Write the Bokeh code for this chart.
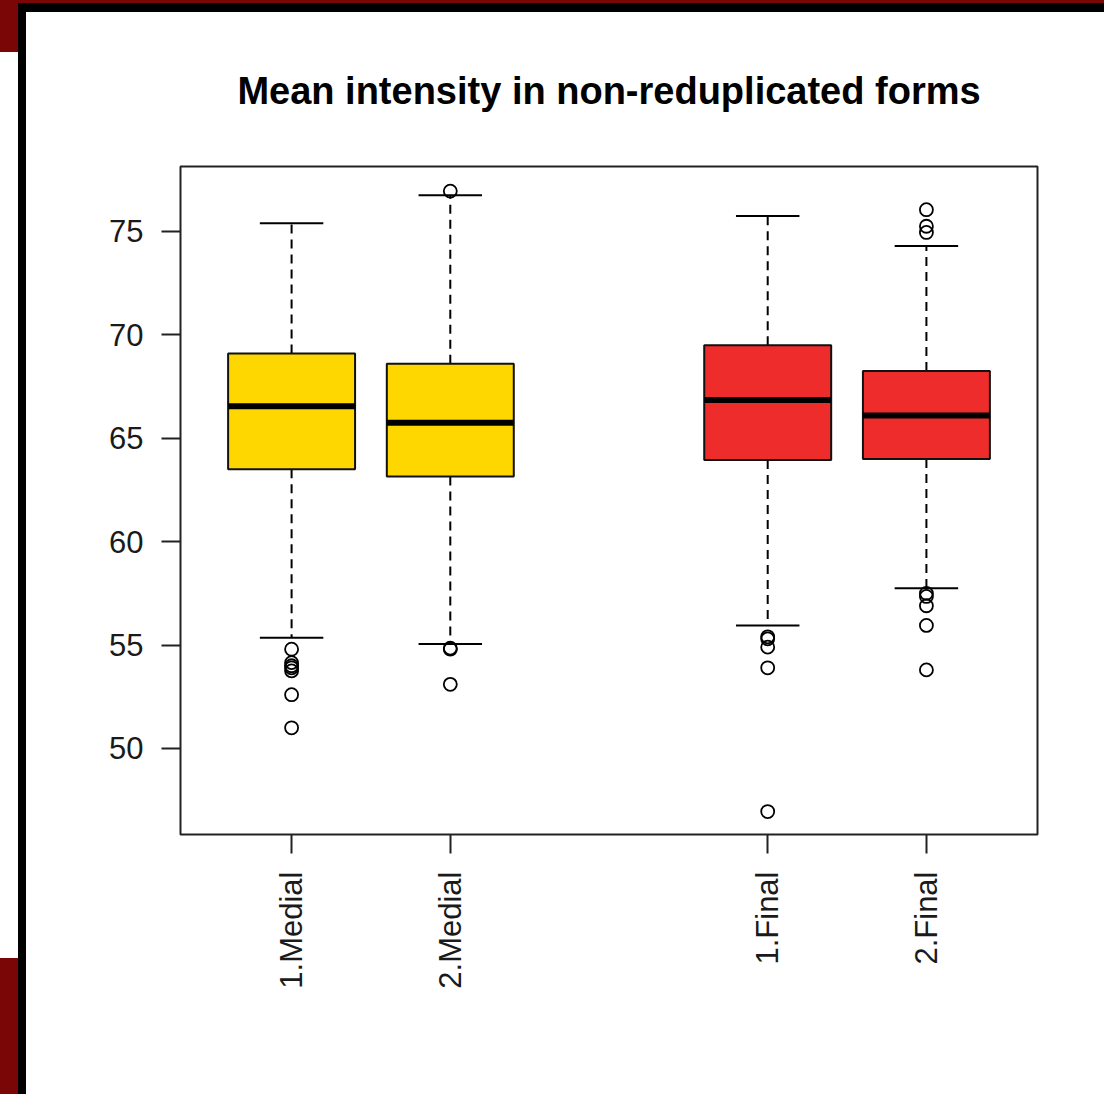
import math
from bokeh.plotting import figure
from bokeh.embed import file_html
from bokeh.resources import INLINE
from bokeh.models import FixedTicker, Range1d, Div
from bokeh.layouts import column, row

# ---- data ----
categories = ["1.Medial", "2.Medial", "1.Final", "2.Final"]
lower_whisker = [55.35, 55.05, 55.95, 57.75]
q1 = [63.5, 63.15, 63.95, 64.0]
median = [66.55, 65.75, 66.85, 66.1]
q3 = [69.1, 68.6, 69.5, 68.25]
upper_whisker = [75.4, 76.75, 75.75, 74.3]
outliers = {
    "1.Medial": [54.8, 54.15, 54.0, 53.9, 53.75, 52.6, 51.0],
    "2.Medial": [76.95, 54.85, 54.8, 53.1],
    "1.Final": [55.4, 55.3, 54.9, 53.9, 46.95],
    "2.Final": [76.05, 75.25, 74.95, 57.5, 57.35, 56.9, 55.95, 53.8],
}
y_ticks = [50, 55, 60, 65, 70, 75]
title_text = "Mean intensity in non-reduplicated forms"

# ---- layout ----
x_pos = [1, 2, 4, 5]
colors = ["#FFD700", "#FFD700", "#EE2C2C", "#EE2C2C"]
box_w = 0.8
cap_w = 0.4

W, H = 1104, 1094
OFF_X, OFF_Y = 26, 12
PW, PH = W - OFF_X, H - OFF_Y

p = figure(width=PW, height=PH, output_backend="svg", toolbar_location=None,
           x_range=Range1d(0.3, 5.7), y_range=Range1d(45.84, 78.14),
           min_border_left=180 - OFF_X, min_border_right=67,
           min_border_top=166 - OFF_Y, min_border_bottom=260)
p.background_fill_color = "white"
p.border_fill_color = "white"
p.grid.visible = False
p.outline_line_color = "#222222"
p.outline_line_width = 2

p.title.text = title_text
p.title.align = "center"
p.title.text_font = "Liberation Sans"
p.title.text_font_style = "bold"
p.title.text_font_size = "38px"
p.title.text_color = "black"
p.title.standoff = 109

# whiskers
p.segment(x0=x_pos, y0=q3, x1=x_pos, y1=upper_whisker, line_color="black",
          line_width=2, line_dash="9 6")
p.segment(x0=x_pos, y0=q1, x1=x_pos, y1=lower_whisker, line_color="black",
          line_width=2, line_dash="9 6")
# caps
p.segment(x0=[x - cap_w / 2 for x in x_pos], y0=upper_whisker,
          x1=[x + cap_w / 2 for x in x_pos], y1=upper_whisker,
          line_color="black", line_width=2)
p.segment(x0=[x - cap_w / 2 for x in x_pos], y0=lower_whisker,
          x1=[x + cap_w / 2 for x in x_pos], y1=lower_whisker,
          line_color="black", line_width=2)
# boxes
p.quad(left=[x - box_w / 2 for x in x_pos], right=[x + box_w / 2 for x in x_pos],
       bottom=q1, top=q3, fill_color=colors, line_color="#111111", line_width=2)
# medians
p.segment(x0=[x - box_w / 2 for x in x_pos], y0=median,
          x1=[x + box_w / 2 for x in x_pos], y1=median,
          line_color="black", line_width=6)
# outliers
ox, oy = [], []
for x, c in zip(x_pos, categories):
    for v in outliers[c]:
        ox.append(x)
        oy.append(v)
p.scatter(ox, oy, marker="circle", size=13, fill_color=None,
          line_color="black", line_width=1.8)

# axes
for ax in (p.xaxis[0], p.yaxis[0]):
    ax.axis_line_color = None
    ax.major_tick_line_color = "#222222"
    ax.major_tick_line_width = 2
    ax.major_tick_out = 19
    ax.major_tick_in = 0
    ax.minor_tick_line_color = None
    ax.major_label_text_font = "Liberation Sans"
    ax.major_label_text_font_size = "31px"
    ax.major_label_text_color = "#1a1a1a"
    ax.major_label_standoff = 18

p.xaxis.ticker = FixedTicker(ticks=x_pos)
p.xaxis.major_label_overrides = {x: c for x, c in zip(x_pos, categories)}
p.xaxis.major_label_orientation = math.pi / 2
p.yaxis.ticker = FixedTicker(ticks=y_ticks)

# screenshot frame around the chart
dark_red = "#7a0606"
top_strip = Div(width=W, height=OFF_Y, margin=0, styles={
    "background": f"linear-gradient(to right, {dark_red} 0 18px, transparent 18px), "
                  f"linear-gradient(to bottom, {dark_red} 0 3px, black 3px)"})
left_strip = Div(width=OFF_X, height=PH, margin=0, styles={
    "background": "linear-gradient(to right, transparent 0 18px, black 18px), "
                  f"linear-gradient(to bottom, {dark_red} 0 40px, white 40px 946px, {dark_red} 946px)"})
p.margin = 0
layout = column(top_strip, row(left_strip, p, spacing=0, margin=0), spacing=0, margin=0)

open("out.html", "w").write(file_html(layout, INLINE))
